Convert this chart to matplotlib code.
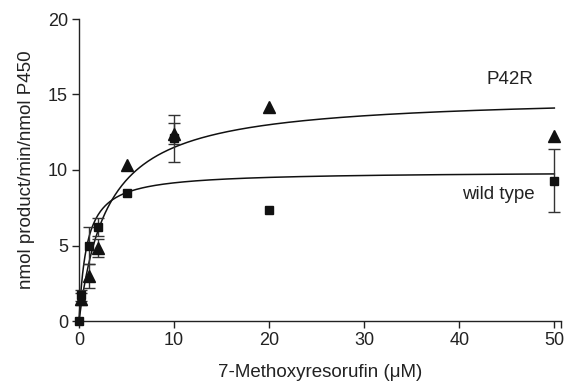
import numpy as np
import matplotlib
matplotlib.use("Agg")
import matplotlib.pyplot as plt

plt.rcParams["font.family"] = ["Liberation Sans", "DejaVu Sans"]

# wild type (squares), substrate concentrations in uM
wt_conc = [0, 0.25, 1, 2, 5, 10, 20, 50]
wt_rate = [0, 1.7, 5.0, 6.2, 8.5, 12.1, 7.35, 9.3]
wt_err = [0, 0.35, 1.2, 0.6, 0, 1.55, 0, 2.1]

# P42R (triangles)
p42r_conc = [0.25, 1, 2, 5, 10, 20, 50]
p42r_rate = [1.45, 3.0, 4.85, 10.3, 12.4, 14.2, 12.25]
p42r_err = [0.4, 0.8, 0.6, 0, 0.7, 0, 0]

# Michaelis-Menten fit parameters (Vmax, Km)
wt_fit = (9.9, 0.82)
p42r_fit = (14.95, 3.0)

fig = plt.figure(figsize=(5.67, 3.85), dpi=100)
ax = fig.add_axes([79 / 567, 1 - 321 / 385, (561 - 79) / 567, (321 - 19) / 385])

xs = np.linspace(0, 50, 400)
for vmax, km in (wt_fit, p42r_fit):
    ax.plot(xs, vmax * xs / (km + xs), color="#111", lw=1.1, clip_on=False)


def draw(conc, rate, err, marker, ms):
    x = np.array(conc, dtype=float)
    y = np.array(rate)
    e = np.array(err)
    has = e > 0
    ax.errorbar(x[has], y[has], yerr=e[has], fmt="none", ecolor="#333",
                elinewidth=1, capsize=4.5, capthick=1, clip_on=False)
    ax.plot(x, y, marker, color="#111", ms=ms, clip_on=False, zorder=3)


draw(p42r_conc, p42r_rate, p42r_err, "^", 8.5)
draw(wt_conc, wt_rate, wt_err, "s", 5.8)

ax.text(47.8, 16.0, "P42R", ha="right", va="center", fontsize=13.5, color="#222")
ax.text(47.9, 8.35, "wild type", ha="right", va="center", fontsize=13.5, color="#222")

ax.set_xlim(0, 50.7)
ax.set_ylim(0, 20)
ax.set_xticks([0, 10, 20, 30, 40, 50])
ax.set_xticks([50.7], minor=True)
ax.set_yticks([0, 5, 10, 15, 20])
ax.tick_params(which="both", direction="out", length=5, width=1, labelsize=13,
               colors="#222", pad=3)
for s in ("top", "right"):
    ax.spines[s].set_visible(False)
for s in ("left", "bottom"):
    ax.spines[s].set_linewidth(1)
    ax.spines[s].set_color("#222")

ax.set_xlabel("7-Methoxyresorufin (\u03bcM)", fontsize=13.5, color="#222", labelpad=11)
ax.set_ylabel("nmol product/min/nmol P450", fontsize=13.5, color="#222", labelpad=9)

fig.savefig("out.png", dpi=100)
